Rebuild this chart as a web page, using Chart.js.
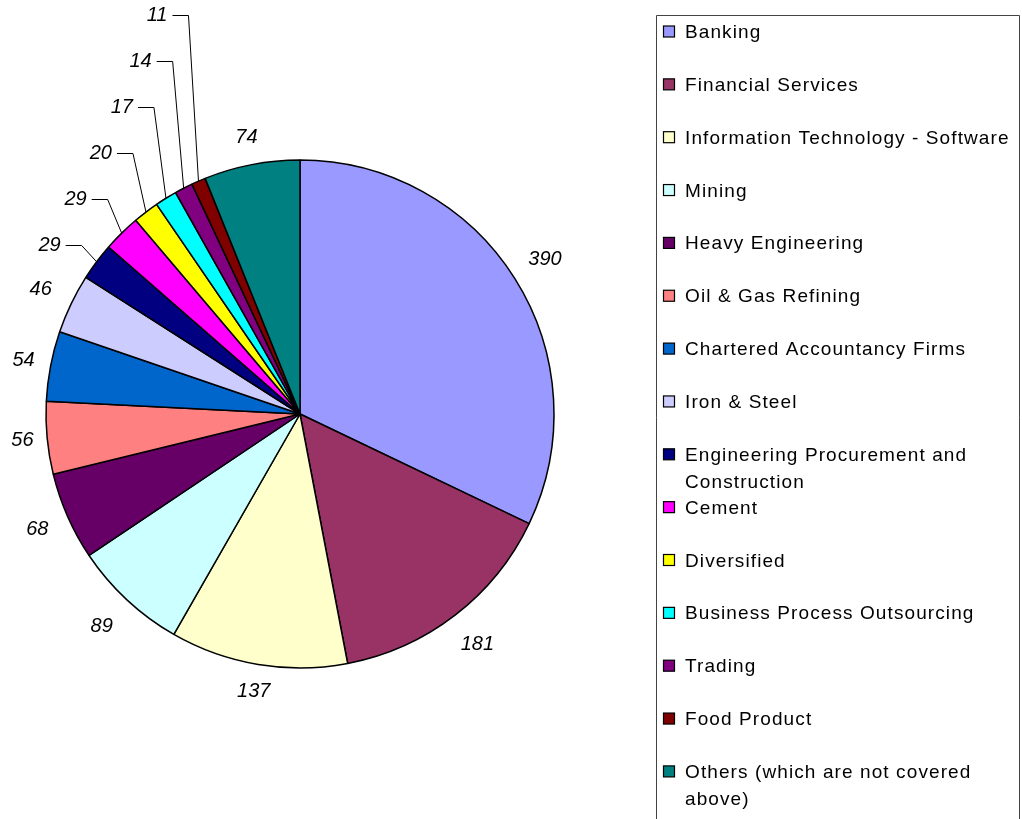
<!DOCTYPE html>
<html>
<head>
<meta charset="utf-8">
<script src="https://cdn.jsdelivr.net/npm/chart.js@4/dist/chart.umd.min.js"></script>
<style>
  html, body { margin: 0; padding: 0; background: #fff; }
  #wrap { width: 1022px; height: 819px; position: relative; }
</style>
</head>
<body>
<div id="wrap"><canvas id="c" width="1022" height="819"></canvas></div>
<script>
const categories = [
  "Banking",
  "Financial Services",
  "Information Technology - Software",
  "Mining",
  "Heavy Engineering",
  "Oil & Gas Refining",
  "Chartered Accountancy Firms",
  "Iron & Steel",
  "Engineering Procurement and Construction",
  "Cement",
  "Diversified",
  "Business Process Outsourcing",
  "Trading",
  "Food Product",
  "Others (which are not covered above)"
];
const values = [390, 181, 137, 89, 68, 56, 54, 46, 29, 29, 20, 17, 14, 11, 74];
const colors = [
  "#9999FF", "#993366", "#FFFFCC", "#CCFFFF", "#660066",
  "#FF8080", "#0066CC", "#CCCCFF", "#000080", "#FF00FF",
  "#FFFF00", "#00FFFF", "#800080", "#800000", "#008080"
];

const LABEL_FONT = "italic 20px 'Liberation Sans', Arial, sans-serif";
const LEGEND_FONT = "19px 'Liberation Sans', Arial, sans-serif";

const bgPlugin = {
  id: 'bg',
  beforeDraw(chart) {
    const ctx = chart.ctx;
    ctx.save();
    ctx.fillStyle = '#fff';
    ctx.fillRect(0, 0, chart.width, chart.height);
    ctx.restore();
  }
};

const labelPlugin = {
  id: 'sliceLabels',
  afterDatasetsDraw(chart) {
    const ctx = chart.ctx;
    const meta = chart.getDatasetMeta(0);
    const vals = chart.data.datasets[0].data;
    ctx.save();
    ctx.font = LABEL_FONT;
    ctx.fillStyle = '#000';
    ctx.strokeStyle = '#000';
    ctx.lineWidth = 1;
    // leader-line labels are the small slices, stacked from the top
    const leaderIdx = [];
    vals.forEach((v, i) => { if (v < 40) leaderIdx.push(i); });
    meta.data.forEach((arc, i) => {
      const p = arc.getProps(['x', 'y', 'startAngle', 'endAngle', 'outerRadius'], true);
      const mid = (p.startAngle + p.endAngle) / 2;
      const txt = String(vals[i]);
      if (leaderIdx.includes(i)) {
        const k = leaderIdx.length - 1 - leaderIdx.indexOf(i);
        const ax = p.x + Math.cos(mid) * p.outerRadius;
        const ay = p.y + Math.sin(mid) * p.outerRadius;
        const ey = 15 + k * 46;
        const ex = ax - 10 - k;
        ctx.beginPath();
        ctx.moveTo(ax, ay);
        ctx.lineTo(ex, ey + 0.5);
        ctx.lineTo(ex - 16, ey + 0.5);
        ctx.stroke();
        ctx.textAlign = 'right';
        ctx.textBaseline = 'middle';
        ctx.fillText(txt, ex - 21, ey);
      } else {
        const d = p.outerRadius + 22 + 15 * Math.abs(Math.sin(2 * mid));
        const lx = p.x + Math.cos(mid) * d;
        const ly = p.y + Math.sin(mid) * d;
        ctx.textAlign = 'center';
        ctx.textBaseline = 'middle';
        ctx.fillText(txt, lx, ly);
      }
    });
    ctx.restore();
  }
};

function wrapText(ctx, text, maxW) {
  const words = text.split(' ');
  const lines = [];
  let cur = '';
  words.forEach(w => {
    const t = cur ? cur + ' ' + w : w;
    if (ctx.measureText(t).width > maxW && cur) {
      lines.push(cur);
      cur = w;
    } else {
      cur = t;
    }
  });
  if (cur) lines.push(cur);
  return lines;
}

const legendPlugin = {
  id: 'boxLegend',
  afterDraw(chart) {
    const ctx = chart.ctx;
    const labels = chart.data.labels;
    const bg = chart.data.datasets[0].backgroundColor;
    ctx.save();
    // frame
    ctx.strokeStyle = '#444';
    ctx.lineWidth = 1;
    ctx.beginPath();
    ctx.moveTo(656.5, 830);
    ctx.lineTo(656.5, 15.5);
    ctx.lineTo(1019.5, 15.5);
    ctx.lineTo(1019.5, 830);
    ctx.stroke();
    ctx.font = LEGEND_FONT;
    try { ctx.letterSpacing = '1.1px'; } catch (e) {}
    ctx.textAlign = 'left';
    ctx.textBaseline = 'alphabetic';
    const top = 31, step = 52.85;
    labels.forEach((lab, i) => {
      const cy = top + i * step;
      ctx.fillStyle = bg[i];
      ctx.fillRect(663.5, cy - 5, 11, 11);
      ctx.strokeStyle = '#000';
      ctx.lineWidth = 1.2;
      ctx.strokeRect(663.5, cy - 5, 11, 11);
      ctx.fillStyle = '#000';
      const lines = wrapText(ctx, lab, 345);
      lines.forEach((ln, j) => {
        ctx.fillText(ln, 685, cy + 7 + j * 27);
      });
    });
    ctx.restore();
  }
};

new Chart(document.getElementById('c'), {
  type: 'pie',
  data: {
    labels: categories,
    datasets: [{
      data: values,
      backgroundColor: colors,
      borderColor: '#000',
      borderWidth: 1.5
    }]
  },
  options: {
    responsive: false,
    animation: false,
    radius: 254,
    layout: { padding: { left: 46, top: 160, right: 468, bottom: 151 } },
    plugins: {
      legend: { display: false },
      tooltip: { enabled: false }
    },
    events: []
  },
  plugins: [bgPlugin, labelPlugin, legendPlugin]
});
</script>
</body>
</html>
